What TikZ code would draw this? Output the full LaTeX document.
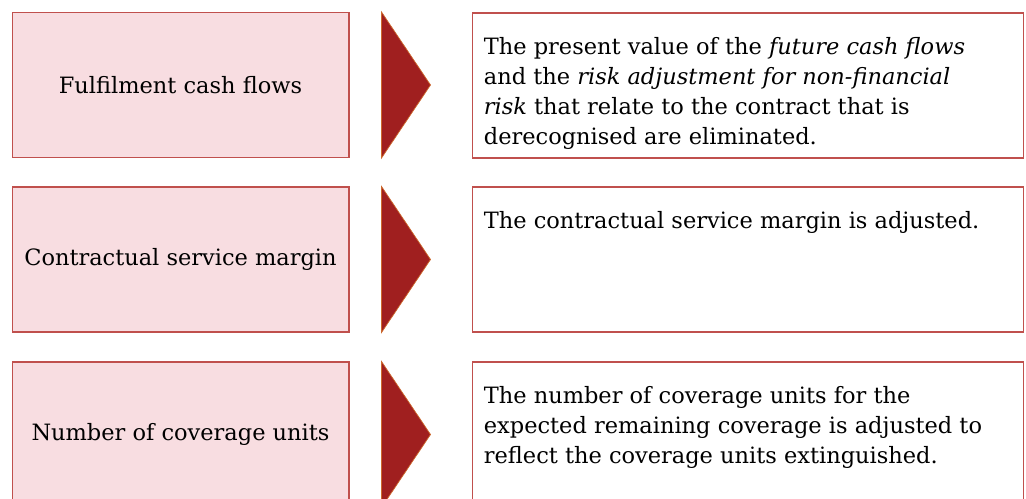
\documentclass[tikz,border=0pt]{standalone}
\usepackage{fontspec}
\setmainfont{DejaVu Serif}
\usepackage{tikz}
\usetikzlibrary{calc,positioning}
\definecolor{boxpink}{RGB}{248,221,225}
\definecolor{boxred}{RGB}{192,80,77}
\definecolor{tridark}{RGB}{160,31,31}
\definecolor{triedge}{RGB}{205,105,45}

\begin{document}
\begin{tikzpicture}[x=0.02cm, y=-0.02cm,
  leftbox/.style={draw=boxred, fill=boxpink, line width=0.6pt, minimum width=6.74cm,
    minimum height=2.9cm, inner sep=0pt, font=\fontsize{12.8}{17}\selectfont},
  rightbox/.style={draw=boxred, fill=white, line width=0.6pt, minimum width=11.04cm,
    minimum height=2.9cm, inner sep=0pt},
  desc/.style={anchor=north west, inner sep=0pt, align=left, font=\fontsize{12.8}{17}\selectfont},
  chevron/.style={fill=tridark, draw=triedge, line width=0.4pt}]
\useasboundingbox (0,0) rectangle (1026,499);
\clip (0,0) rectangle (1026,499);

% Left column
\node[leftbox] (fcf) at (180.5,85) {Fulfilment cash flows};
\node[leftbox] (csm) at (180.5,259.5) {Contractual service margin};
\node[leftbox] (ncu) at (180.5,434.5) {Number of coverage units};

% Right column
\node[rightbox] (rfcf) at (748,85.5) {};
\node[rightbox] (rcsm) at (748,259.5) {};
\node[rightbox] (rncu) at (748,434.5) {};

% Descriptions
\node[desc] (tfcf) at ($(rfcf.north west)+(12,25)$)
  {The present value of the \textit{future cash flows}\\
   and the \textit{risk adjustment for non-financial}\\
   \textit{risk} that relate to the contract that is\\
   derecognised are eliminated.};
\node[desc] (tcsm) at ($(rcsm.north west)+(12,25)$)
  {The contractual service margin is adjusted.};
\node[desc] (tncu) at ($(rncu.north west)+(12,25)$)
  {The number of coverage units for the\\
   expected remaining coverage is adjusted to\\
   reflect the coverage units extinguished.};

% Arrow heads
\foreach \b in {fcf,csm,ncu} {
  \draw[chevron] ($(\b.north east)+(32,0)$) -- ($(\b.east)+(81,0)$)
    -- ($(\b.south east)+(32,0)$) -- cycle;
}
\end{tikzpicture}
\end{document}
